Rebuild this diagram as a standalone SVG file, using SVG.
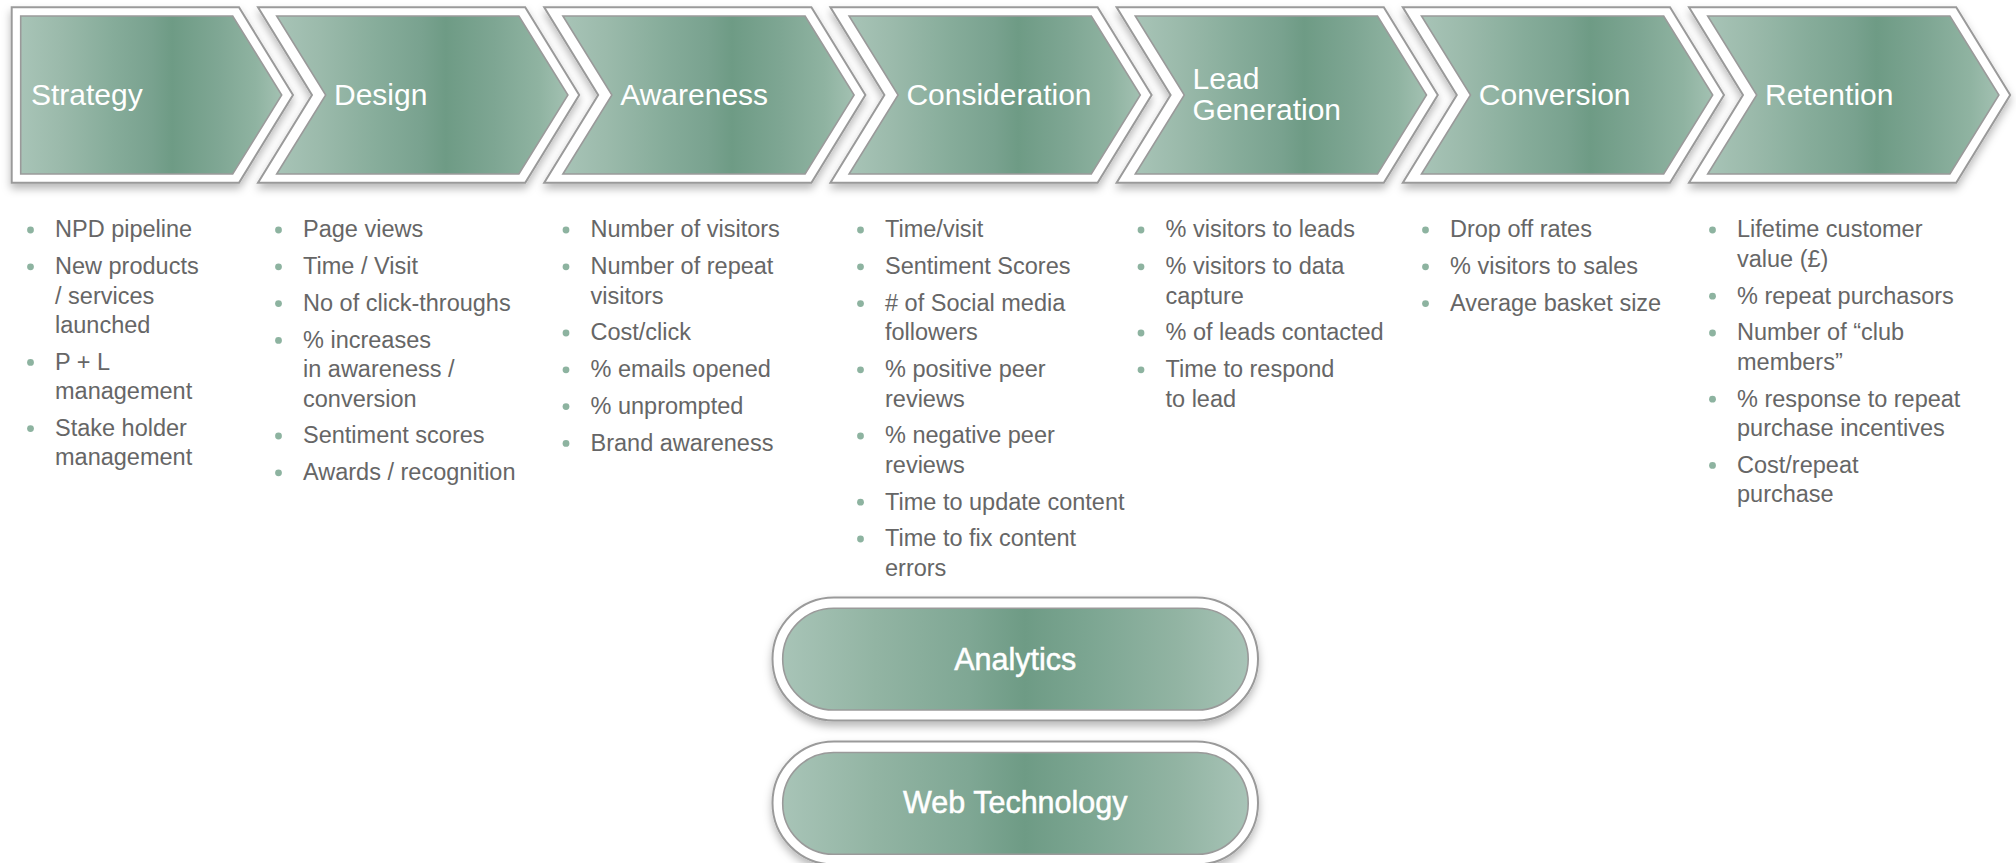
<svg xmlns="http://www.w3.org/2000/svg" width="2016" height="863" viewBox="0 0 2016 863">
<defs>
<linearGradient id="gChev" x1="0" y1="0" x2="1" y2="0">
<stop offset="0" stop-color="#a8c4b7"/>
<stop offset="0.15" stop-color="#9bbaab"/>
<stop offset="0.35" stop-color="#86ac9a"/>
<stop offset="0.5" stop-color="#79a28f"/>
<stop offset="0.58" stop-color="#6e9b85"/>
<stop offset="0.75" stop-color="#7ea693"/>
<stop offset="0.9" stop-color="#8fb3a1"/>
<stop offset="1" stop-color="#a3c1b2"/>
</linearGradient>
<linearGradient id="gPill" x1="0" y1="0" x2="1" y2="0">
<stop offset="0" stop-color="#a8c4b7"/>
<stop offset="0.2" stop-color="#92b4a3"/>
<stop offset="0.4" stop-color="#7fa794"/>
<stop offset="0.52" stop-color="#6e9b85"/>
<stop offset="0.65" stop-color="#7ba591"/>
<stop offset="0.85" stop-color="#92b4a3"/>
<stop offset="1" stop-color="#a8c4b7"/>
</linearGradient>
<filter id="sh" x="-5%" y="-10%" width="110%" height="130%">
<feDropShadow dx="0" dy="5" stdDeviation="4" flood-color="#000" flood-opacity="0.28"/>
</filter>
</defs>
<style>
.out{fill:#ffffff;stroke:#9a9a9a;stroke-width:2;filter:url(#sh)}
.inn{fill:url(#gChev);stroke:#9a9a9a;stroke-width:1.6}
.pin{fill:url(#gPill);stroke:#9a9a9a;stroke-width:1.6}
.lbl{font-family:"Liberation Sans",Arial,sans-serif;font-size:30px;fill:#ffffff}
.plbl{font-family:"Liberation Sans",Arial,sans-serif;font-size:30.5px;fill:#ffffff;stroke:#ffffff;stroke-width:0.5;text-anchor:middle}
.t{font-family:"Liberation Sans",Arial,sans-serif;font-size:23.5px;fill:#666666}
.d{fill:#8db3a0}
</style>
<rect width="2016" height="863" fill="#ffffff"/>

<g id="chevrons">
<g id="strategy">
<polygon class="out" points="11.7,7.3 239,7.3 293,95 239,182.7 11.7,182.7"/>
<polygon class="inn" points="20.7,16 232.7,16 281.7,95 232.7,174 20.7,174"/>
<text class="lbl" x="31" y="104.5">Strategy</text>
</g>
<g id="design">
<polygon class="out" points="258,7.3 525.2,7.3 579.2,95 525.2,182.7 258,182.7 312,95"/>
<polygon class="inn" points="276.7,16 518.9,16 567.9,95 518.9,174 276.7,174 325.7,95"/>
<text class="lbl" x="334" y="104.5">Design</text>
</g>
<g id="awareness" transform="translate(286.2,0)">
<polygon class="out" points="258,7.3 525.2,7.3 579.2,95 525.2,182.7 258,182.7 312,95"/>
<polygon class="inn" points="276.7,16 518.9,16 567.9,95 518.9,174 276.7,174 325.7,95"/>
<text class="lbl" x="334" y="104.5">Awareness</text>
</g>
<g id="consideration" transform="translate(572.4,0)">
<polygon class="out" points="258,7.3 525.2,7.3 579.2,95 525.2,182.7 258,182.7 312,95"/>
<polygon class="inn" points="276.7,16 518.9,16 567.9,95 518.9,174 276.7,174 325.7,95"/>
<text class="lbl" x="334" y="104.5">Consideration</text>
</g>
<g id="lead-generation" transform="translate(858.6,0)">
<polygon class="out" points="258,7.3 525.2,7.3 579.2,95 525.2,182.7 258,182.7 312,95"/>
<polygon class="inn" points="276.7,16 518.9,16 567.9,95 518.9,174 276.7,174 325.7,95"/>
<text class="lbl" x="334" y="89">Lead</text>
<text class="lbl" x="334" y="120">Generation</text>
</g>
<g id="conversion" transform="translate(1144.8,0)">
<polygon class="out" points="258,7.3 525.2,7.3 579.2,95 525.2,182.7 258,182.7 312,95"/>
<polygon class="inn" points="276.7,16 518.9,16 567.9,95 518.9,174 276.7,174 325.7,95"/>
<text class="lbl" x="334" y="104.5">Conversion</text>
</g>
<g id="retention" transform="translate(1431,0)">
<polygon class="out" points="258,7.3 525.2,7.3 579.2,95 525.2,182.7 258,182.7 312,95"/>
<polygon class="inn" points="276.7,16 518.9,16 567.9,95 518.9,174 276.7,174 325.7,95"/>
<text class="lbl" x="334" y="104.5">Retention</text>
</g>
</g>

<g id="metrics-strategy">
<circle class="d" cx="30.5" cy="230" r="3.4"/><text class="t" x="55" y="237.3">NPD pipeline</text>
<circle class="d" cx="30.5" cy="266.8" r="3.4"/><text class="t" x="55" y="274.1">New products</text>
<text class="t" x="55" y="303.5">/ services</text>
<text class="t" x="55" y="332.9">launched</text>
<circle class="d" cx="30.5" cy="362.4" r="3.4"/><text class="t" x="55" y="369.7">P + L</text>
<text class="t" x="55" y="399.1">management</text>
<circle class="d" cx="30.5" cy="428.6" r="3.4"/><text class="t" x="55" y="435.9">Stake holder</text>
<text class="t" x="55" y="465.3">management</text>
</g>

<g id="metrics-design">
<circle class="d" cx="278.5" cy="230" r="3.4"/><text class="t" x="303" y="237.3">Page views</text>
<circle class="d" cx="278.5" cy="266.8" r="3.4"/><text class="t" x="303" y="274.1">Time / Visit</text>
<circle class="d" cx="278.5" cy="303.6" r="3.4"/><text class="t" x="303" y="310.9">No of click-throughs</text>
<circle class="d" cx="278.5" cy="340.4" r="3.4"/><text class="t" x="303" y="347.7">% increases</text>
<text class="t" x="303" y="377.1">in awareness /</text>
<text class="t" x="303" y="406.5">conversion</text>
<circle class="d" cx="278.5" cy="436" r="3.4"/><text class="t" x="303" y="443.3">Sentiment scores</text>
<circle class="d" cx="278.5" cy="472.8" r="3.4"/><text class="t" x="303" y="480.1">Awards / recognition</text>
</g>

<g id="metrics-awareness">
<circle class="d" cx="566" cy="230" r="3.4"/><text class="t" x="590.5" y="237.3">Number of visitors</text>
<circle class="d" cx="566" cy="266.8" r="3.4"/><text class="t" x="590.5" y="274.1">Number of repeat</text>
<text class="t" x="590.5" y="303.5">visitors</text>
<circle class="d" cx="566" cy="333" r="3.4"/><text class="t" x="590.5" y="340.3">Cost/click</text>
<circle class="d" cx="566" cy="369.8" r="3.4"/><text class="t" x="590.5" y="377.1">% emails opened</text>
<circle class="d" cx="566" cy="406.6" r="3.4"/><text class="t" x="590.5" y="413.9">% unprompted</text>
<circle class="d" cx="566" cy="443.4" r="3.4"/><text class="t" x="590.5" y="450.7">Brand awareness</text>
</g>

<g id="metrics-consideration">
<circle class="d" cx="860.5" cy="230" r="3.4"/><text class="t" x="885" y="237.3">Time/visit</text>
<circle class="d" cx="860.5" cy="266.8" r="3.4"/><text class="t" x="885" y="274.1">Sentiment Scores</text>
<circle class="d" cx="860.5" cy="303.6" r="3.4"/><text class="t" x="885" y="310.9"># of Social media</text>
<text class="t" x="885" y="340.3">followers</text>
<circle class="d" cx="860.5" cy="369.8" r="3.4"/><text class="t" x="885" y="377.1">% positive peer</text>
<text class="t" x="885" y="406.5">reviews</text>
<circle class="d" cx="860.5" cy="436" r="3.4"/><text class="t" x="885" y="443.3">% negative peer</text>
<text class="t" x="885" y="472.7">reviews</text>
<circle class="d" cx="860.5" cy="502.2" r="3.4"/><text class="t" x="885" y="509.5">Time to update content</text>
<circle class="d" cx="860.5" cy="539" r="3.4"/><text class="t" x="885" y="546.3">Time to fix content</text>
<text class="t" x="885" y="575.7">errors</text>
</g>

<g id="metrics-lead-generation">
<circle class="d" cx="1141" cy="230" r="3.4"/><text class="t" x="1165.5" y="237.3">% visitors to leads</text>
<circle class="d" cx="1141" cy="266.8" r="3.4"/><text class="t" x="1165.5" y="274.1">% visitors to data</text>
<text class="t" x="1165.5" y="303.5">capture</text>
<circle class="d" cx="1141" cy="333" r="3.4"/><text class="t" x="1165.5" y="340.3">% of leads contacted</text>
<circle class="d" cx="1141" cy="369.8" r="3.4"/><text class="t" x="1165.5" y="377.1">Time to respond</text>
<text class="t" x="1165.5" y="406.5">to lead</text>
</g>

<g id="metrics-conversion">
<circle class="d" cx="1425.5" cy="230" r="3.4"/><text class="t" x="1450" y="237.3">Drop off rates</text>
<circle class="d" cx="1425.5" cy="266.8" r="3.4"/><text class="t" x="1450" y="274.1">% visitors to sales</text>
<circle class="d" cx="1425.5" cy="303.6" r="3.4"/><text class="t" x="1450" y="310.9">Average basket size</text>
</g>

<g id="metrics-retention">
<circle class="d" cx="1712.5" cy="230" r="3.4"/><text class="t" x="1737" y="237.3">Lifetime customer</text>
<text class="t" x="1737" y="266.7">value (£)</text>
<circle class="d" cx="1712.5" cy="296.2" r="3.4"/><text class="t" x="1737" y="303.5">% repeat purchasors</text>
<circle class="d" cx="1712.5" cy="333" r="3.4"/><text class="t" x="1737" y="340.3">Number of “club</text>
<text class="t" x="1737" y="369.7">members”</text>
<circle class="d" cx="1712.5" cy="399.2" r="3.4"/><text class="t" x="1737" y="406.5">% response to repeat</text>
<text class="t" x="1737" y="435.9">purchase incentives</text>
<circle class="d" cx="1712.5" cy="465.4" r="3.4"/><text class="t" x="1737" y="472.7">Cost/repeat</text>
<text class="t" x="1737" y="502.1">purchase</text>
</g>

<g id="analytics">
<rect class="out" x="772.5" y="597.5" width="485.5" height="123" rx="61.5" ry="61.5"/>
<rect class="pin" x="782.7" y="608.3" width="465.5" height="101.7" rx="50.8" ry="50.8"/>
<text class="plbl" x="1015.3" y="670">Analytics</text>
</g>
<g id="web-technology">
<rect class="out" x="772.5" y="741.5" width="485.5" height="123" rx="61.5" ry="61.5"/>
<rect class="pin" x="782.7" y="752.5" width="465.5" height="101.7" rx="50.8" ry="50.8"/>
<text class="plbl" x="1015.3" y="813">Web Technology</text>
</g>
</svg>
